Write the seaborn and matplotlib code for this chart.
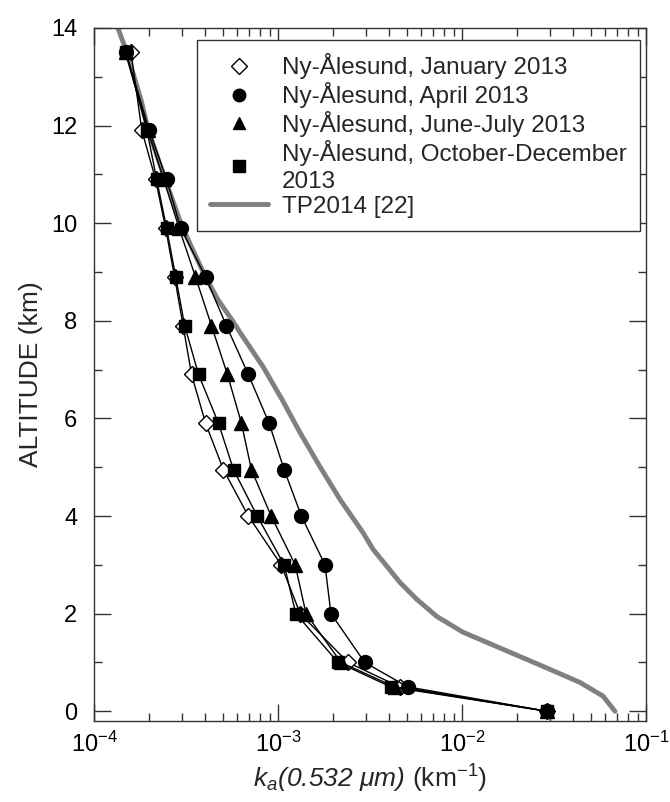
import numpy as np
import pandas as pd
import seaborn as sns
import matplotlib.pyplot as plt
from matplotlib.lines import Line2D
from matplotlib.ticker import LogLocator, MultipleLocator, NullFormatter

# altitude levels of the lidar profiles (km)
altitude = [13.5, 11.9, 10.9, 9.9, 8.9, 7.9, 6.9, 5.9, 4.95, 4.0, 3.0, 2.0, 1.0, 0.5, 0.0]

# aerosol extinction k_a(0.532 um) in km^-1
ka_january = [1.59e-4, 1.82e-4, 2.16e-4, 2.45e-4, 2.74e-4, 3.05e-4, 3.39e-4, 4.04e-4,
              5.05e-4, 6.90e-4, 1.04e-3, 1.32e-3, 2.40e-3, 4.58e-3, 2.90e-2]
ka_april = [1.49e-4, 2.00e-4, 2.48e-4, 2.96e-4, 4.04e-4, 5.24e-4, 6.90e-4, 8.95e-4,
            1.08e-3, 1.34e-3, 1.80e-3, 1.94e-3, 2.96e-3, 5.06e-3, 2.90e-2]
ka_june = [1.49e-4, 1.96e-4, 2.39e-4, 2.90e-4, 3.56e-4, 4.35e-4, 5.31e-4, 6.33e-4,
           7.17e-4, 9.18e-4, 1.24e-3, 1.42e-3, 2.20e-3, 4.30e-3, 2.90e-2]
ka_october = [1.49e-4, 1.94e-4, 2.19e-4, 2.48e-4, 2.78e-4, 3.11e-4, 3.70e-4, 4.75e-4,
              5.73e-4, 7.71e-4, 1.08e-3, 1.25e-3, 2.12e-3, 4.10e-3, 2.90e-2]

# TP2014 [22] reference profile
tp_altitude = [14.0, 13.49, 12.53, 11.91, 10.91, 9.93, 8.92, 8.43, 8.02, 7.76, 7.06, 6.39,
               5.71, 5.01, 4.34, 3.66, 3.32, 2.64, 2.29, 1.94, 1.62, 1.27, 0.92, 0.59, 0.31, 0.0]
tp_ka = [1.35e-4, 1.51e-4, 1.80e-4, 1.97e-4, 2.43e-4, 3.01e-4, 4.01e-4, 4.72e-4, 5.62e-4,
         6.22e-4, 8.29e-4, 1.051e-3, 1.317e-3, 1.691e-3, 2.173e-3, 2.897e-3, 3.283e-3,
         4.60e-3, 5.69e-3, 7.31e-3, 1.012e-2, 1.67e-2, 2.755e-2, 4.38e-2, 5.84e-2, 6.78e-2]

labels = ["Ny-Ålesund, January 2013", "Ny-Ålesund, April 2013",
          "Ny-Ålesund, June-July 2013", "Ny-Ålesund, October-December\n2013",
          "TP2014 [22]"]

sns.set_theme(style="ticks")
plt.rcParams['font.family'] = ['Liberation Sans', 'DejaVu Sans']
plt.rcParams['mathtext.fontset'] = 'custom'
plt.rcParams['mathtext.rm'] = 'Liberation Sans'
plt.rcParams['mathtext.it'] = 'Liberation Sans:italic'
plt.rcParams['mathtext.sf'] = 'Liberation Sans:italic'
plt.rcParams['mathtext.bf'] = 'Liberation Sans:bold'
plt.rcParams['axes.unicode_minus'] = False

fig = plt.figure(figsize=(6.7, 8.02), dpi=100)
ax = fig.add_axes([94 / 670, 1 - 721 / 802, 552 / 670, 693 / 802])

sns.lineplot(x=tp_ka, y=tp_altitude, sort=False, estimator=None, ax=ax,
             color="#808080", lw=3.5, zorder=1)

series = [
    (ka_january, "D", "white", 8.5),
    (ka_april, "o", "black", 10),
    (ka_june, "^", "black", 10),
    (ka_october, "s", "black", 9),
]
handles = []
for i, (vals, mk, fc, ms) in enumerate(series):
    sns.lineplot(x=vals, y=altitude, sort=False, estimator=None, ax=ax,
                 color="black", lw=1.0, marker=mk, markerfacecolor=fc,
                 markeredgecolor="black", markeredgewidth=1.0, markersize=ms,
                 zorder=2 + i)
    handles.append(Line2D([], [], ls="none", marker=mk, markerfacecolor=fc,
                          markeredgecolor="black", markersize=ms * 0.9))
handles.append(Line2D([], [], color="#808080", lw=3.5))

ax.set_xscale("log")
ax.set_xlim(1e-4, 1e-1)
ax.set_ylim(-0.2, 14)
ax.xaxis.set_major_locator(LogLocator(base=10, numticks=10))
ax.xaxis.set_minor_locator(LogLocator(base=10, subs=np.arange(2, 10), numticks=20))
ax.xaxis.set_minor_formatter(NullFormatter())
ax.yaxis.set_major_locator(MultipleLocator(2))
ax.yaxis.set_minor_locator(MultipleLocator(1))

ax.tick_params(which="both", direction="in", top=True, right=True,
               colors="#333333", labelcolor="black", labelsize=17, width=1)
ax.tick_params(which="major", length=12)
ax.tick_params(which="minor", length=6)
ax.tick_params(axis="x", pad=8)
ax.tick_params(axis="y", pad=12)
for sp in ax.spines.values():
    sp.set_color("#333333")
    sp.set_linewidth(1.0)

ax.set_ylabel("ALTITUDE (km)", fontsize=19, labelpad=6)
ax.set_xlabel(r"$\mathsf{k_a(0.532}\ \mu\mathsf{m)}$ (km$^{-1}$)", fontsize=19, labelpad=4)

leg = ax.legend(handles, labels,
                loc="upper right", bbox_to_anchor=(0.989, 0.983), borderaxespad=0,
                fontsize=17.5, frameon=True, fancybox=False, framealpha=1,
                edgecolor="#333333", handlelength=2.4, handletextpad=0.55,
                labelspacing=0.12, borderpad=0.55, numpoints=1)
leg.get_frame().set_linewidth(1.0)
for t in leg.get_texts():
    t.set_linespacing(1.3)

fig.savefig("out.png", dpi=100)
